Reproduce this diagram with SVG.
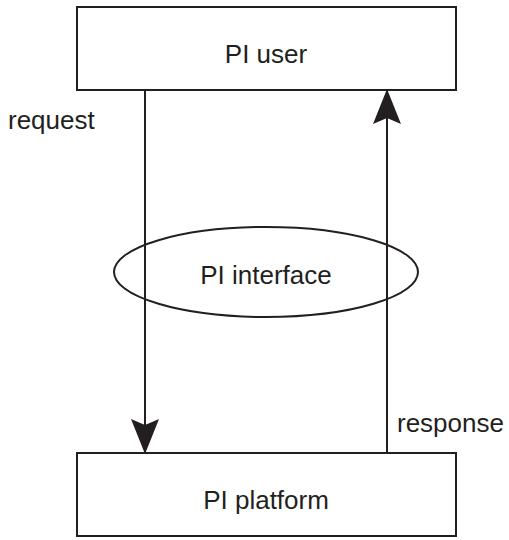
<svg xmlns="http://www.w3.org/2000/svg" width="509" height="540" viewBox="0 0 509 540">
  <style>
    .box { fill: #ffffff; stroke: #231f20; stroke-width: 2; }
    .oval { fill: none; stroke: #231f20; stroke-width: 2; }
    .link { fill: none; stroke: #231f20; stroke-width: 2; }
    .label { font-family: "Liberation Sans", Arial, sans-serif; font-size: 26px; fill: #231f20; }
    .mid { text-anchor: middle; }
  </style>
  <defs>
    <marker id="head" markerUnits="userSpaceOnUse" markerWidth="40" markerHeight="40" viewBox="-36 -16 40 32" refX="0" refY="0" orient="auto">
      <path d="M0,0 L-35,-14 L-29,0 L-35,14 Z" fill="#231f20"/>
    </marker>
  </defs>

  <rect width="509" height="540" fill="#ffffff"/>

  <g id="connectors">
    <line class="link" x1="145" y1="90" x2="145" y2="454" marker-end="url(#head)"/>
    <line class="link" x1="387" y1="453" x2="387" y2="89" marker-end="url(#head)"/>
    <text class="label" x="8" y="129">request</text>
    <text class="label" x="397" y="432">response</text>
  </g>

  <g id="pi-user">
    <rect class="box" x="77" y="7" width="379" height="83"/>
    <text class="label mid" x="266" y="63">PI user</text>
  </g>

  <g id="pi-interface">
    <ellipse class="oval" cx="266" cy="272" rx="152" ry="45"/>
    <text class="label mid" x="266" y="284">PI interface</text>
  </g>

  <g id="pi-platform">
    <rect class="box" x="77" y="453" width="379" height="83"/>
    <text class="label mid" x="266" y="509">PI platform</text>
  </g>
</svg>
